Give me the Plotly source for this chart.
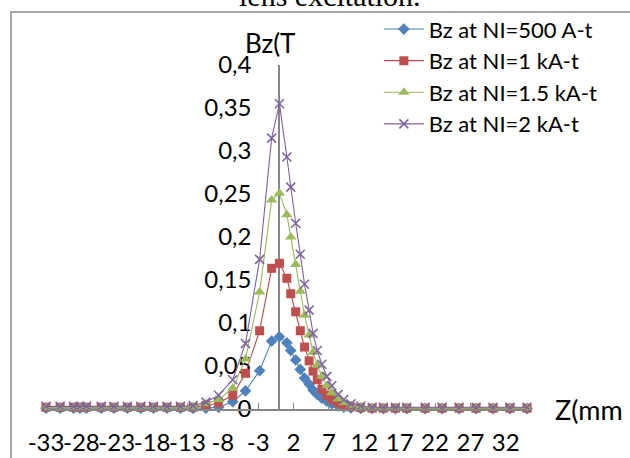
import plotly.graph_objects as go

# z positions (mm)
z = [-33, -31, -29.1, -28.2, -27.3, -25.2, -23.4, -21.5, -19.6, -17.8, -15.9, -14, -12.2, -10.4,
     -8.6, -6.6, -4.8, -2.8, -1.1, 0,
     1.05, 1.6, 2.3, 2.95, 3.55, 4.2, 4.75, 5.35, 6.0, 6.7, 7.4, 8.3, 9.1, 10.1, 11.5, 13.1,
     14.7, 16.4, 18.0, 20.6, 23.0, 25.4, 27.8, 30.2, 32.6, 35.0]

bz_500 = [0.001, 0.001, 0.001, 0.001, 0.001, 0.001, 0.001, 0.001, 0.001, 0.001, 0.001, 0.001, 0.0008, 0.001,
          0.002, 0.0085, 0.021, 0.0445, 0.079, 0.084,
          0.077, 0.068, 0.057, 0.046, 0.036, 0.029, 0.022, 0.017, 0.0125, 0.009, 0.006, 0.0037, 0.0022, 0.0012, 0.0008, 0.0006,
          0.0005, 0.0005, 0.0005, 0.0005, 0.0005, 0.0005, 0.0005, 0.0005, 0.0005, 0.0005]

bz_1k = [0.002, 0.002, 0.002, 0.002, 0.002, 0.002, 0.002, 0.002, 0.002, 0.002, 0.002, 0.002, 0.002, 0.004,
         0.007, 0.016, 0.0415, 0.091, 0.1636, 0.1694,
         0.152, 0.134, 0.113, 0.091, 0.072, 0.056, 0.044, 0.034, 0.023, 0.016, 0.011, 0.007, 0.004, 0.0025, 0.0015, 0.001,
         0.001, 0.001, 0.001, 0.001, 0.001, 0.001, 0.001, 0.001, 0.001, 0.001]

bz_15k = [0.0015, 0.0015, 0.0015, 0.0015, 0.0015, 0.0015, 0.0015, 0.0015, 0.0015, 0.0015, 0.0015, 0.0015, 0.003, 0.006,
          0.011, 0.024, 0.058, 0.136, 0.243, 0.251,
          0.226, 0.200, 0.168, 0.137, 0.109, 0.086, 0.066, 0.051, 0.038, 0.027, 0.019, 0.012, 0.0075, 0.0045, 0.0025, 0.0015,
          0.001, 0.001, 0.001, 0.001, 0.001, 0.001, 0.001, 0.001, 0.001, 0.001]

bz_2k = [0.003, 0.003, 0.003, 0.003, 0.003, 0.003, 0.003, 0.003, 0.003, 0.003, 0.003, 0.003, 0.004, 0.008,
         0.016, 0.034, 0.076, 0.174, 0.315, 0.355,
         0.293, 0.258, 0.216, 0.180, 0.145, 0.115, 0.088, 0.068, 0.052, 0.038, 0.027, 0.017, 0.011, 0.006, 0.0035, 0.002,
         0.002, 0.002, 0.002, 0.002, 0.002, 0.002, 0.002, 0.002, 0.002, 0.002]

series_names = ["Bz at NI=500 A-t", "Bz at NI=1 kA-t", "Bz at NI=1.5 kA-t", "Bz at NI=2 kA-t"]
x_tick_vals = [-33, -28, -23, -18, -13, -8, -3, 2, 7, 12, 17, 22, 27, 32]
x_tick_text = ["-33", "-28", "-23", "-18", "-13", "-8", "-3", "2", "7", "12", "17", "22", "27", "32"]

FONT = "Lato"
line_colors = ["#4A7EBB", "#BE4B48", "#98B954", "#7D60A0"]
marker_colors = ["#4F81BD", "#C0504D", "#9BBB59", "#8064A2"]
symbols = ["diamond", "square", "triangle-up", "x-thin"]
sizes = [9, 9, 10, 9]

fig = go.Figure()
for i, (name, ys) in enumerate(zip(series_names, [bz_500, bz_1k, bz_15k, bz_2k])):
    mk = dict(symbol=symbols[i], size=sizes[i], color=marker_colors[i])
    if symbols[i] == "x-thin":
        mk["line"] = dict(color=marker_colors[i], width=1.6)
    else:
        mk["line"] = dict(width=0)
    fig.add_trace(go.Scatter(
        x=z, y=ys, name=name, mode="lines+markers",
        line=dict(color=line_colors[i], width=1.1),
        marker=mk, cliponaxis=False, legendgroup=f"g{i}",
    ))

fig.update_layout(
    width=630, height=458,
    margin=dict(l=46, r=103, t=65, b=49, autoexpand=False),
    paper_bgcolor="white", plot_bgcolor="white",
    separators=", ",
    font=dict(family=FONT, size=22, color="black"),
    showlegend=True,
    legend=dict(x=0.692, y=1.165, xanchor="left", yanchor="top",
                font=dict(family=FONT, size=22, color="black"),
                bgcolor="rgba(0,0,0,0)", tracegroupgap=0, itemwidth=40),
    xaxis=dict(range=[-33, 35], tickvals=x_tick_vals, ticktext=x_tick_text, tickangle=0, automargin=False,
               showgrid=False, zeroline=False, showline=True, linecolor="#868686", linewidth=1.5,
               ticks="inside", ticklen=6, tickcolor="#868686", tickwidth=1.2,
               ticklabelstandoff=11, tickfont=dict(family=FONT, size=24)),
    yaxis=dict(range=[0, 0.4], dtick=0.05, tick0=0, anchor="free", position=(279.3 - 46) / 481,
               automargin=False,
               showgrid=False, zeroline=False, showline=True, linecolor="#868686", linewidth=2,
               ticks="", ticklabelstandoff=22, layer="below traces",
               tickfont=dict(family=FONT, size=24)),
    annotations=[
        dict(text="Bz(T", x=(270 - 46) / 481, y=(409 - 43) / 344, xref="paper", yref="paper",
             xanchor="center", yanchor="middle", showarrow=False, font=dict(family=FONT, size=26)),
        dict(text="Z(mm", x=(553 - 46) / 481, y=0, xref="paper", yref="paper",
             xanchor="left", yanchor="middle", showarrow=False, font=dict(family=FONT, size=27)),
        dict(text="lens excitation.", x=(330 - 46) / 481, y=(409 - 14) / 344, xref="paper", yref="paper",
             xanchor="center", yanchor="bottom", showarrow=False,
             font=dict(family="Liberation Serif", size=30)),
    ],
    shapes=[
        dict(type="rect", xref="paper", yref="paper",
             x0=(11 - 46) / 481, x1=(645 - 46) / 481, y0=(409 - 475) / 344, y1=(409 - 12) / 344,
             line=dict(color="#8a8a8a", width=1.5), fillcolor="rgba(0,0,0,0)", layer="below"),
    ],
)

fig.write_html("out.html")
